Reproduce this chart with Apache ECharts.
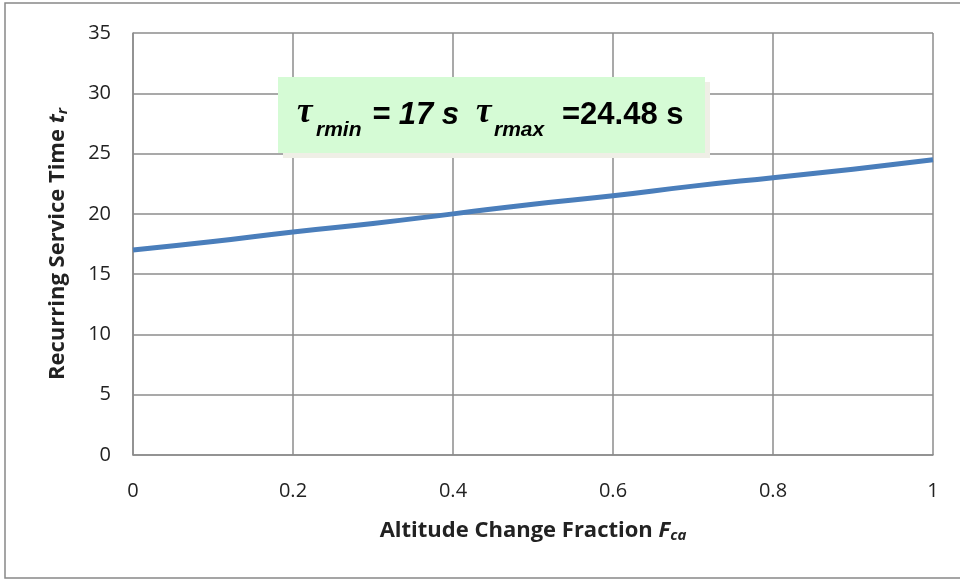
<!DOCTYPE html>
<html><head><meta charset="utf-8">
<script src="https://cdn.jsdelivr.net/npm/echarts@6/dist/echarts.min.js"></script>
<style>html,body{margin:0;padding:0;background:#fff;}#c{width:960px;height:581px;}</style>
</head><body><div id="c"></div>
<script>
const xValues = [0, 0.1, 0.2, 0.3, 0.4, 0.5, 0.6, 0.7, 0.8, 0.9, 1.0];
const serviceTime = [17.0, 17.7, 18.5, 19.2, 20.0, 20.8, 21.5, 22.3, 23.0, 23.7, 24.48];
const xTicks = [0, 0.2, 0.4, 0.6, 0.8, 1];
const yTicks = [0, 5, 10, 15, 20, 25, 30, 35];

const chart = echarts.init(document.getElementById('c'), null, {renderer: 'canvas'});
const gridColor = '#8c8c8c';
const labelFont = {fontFamily: 'Open Sans', fontSize: 20, color: '#222'};
chart.setOption({
  animation: false,
  backgroundColor: '#fff',
  grid: {left: 133, top: 33, right: 27, bottom: 126, show: false},
  xAxis: {
    type: 'value', min: xTicks[0], max: xTicks[xTicks.length - 1], interval: 0.2,
    axisLine: {show: true, lineStyle: {color: gridColor, width: 1.5}},
    axisTick: {show: false},
    splitLine: {show: true, lineStyle: {color: gridColor, width: 1.5}},
    axisLabel: Object.assign({margin: 26, formatter: v => String(+v.toFixed(1))}, labelFont),
    name: 'Altitude Change Fraction {i|F}{s|ca}',
    nameLocation: 'middle', nameGap: 64,
    nameTextStyle: {
      fontFamily: 'Open Sans', fontSize: 22, fontWeight: 'bold', color: '#222',
      rich: {
        i: {fontFamily: 'Open Sans', fontSize: 22, fontWeight: 'bold', fontStyle: 'italic', color: '#222'},
        s: {fontFamily: 'Open Sans', fontSize: 15, fontWeight: 'bold', fontStyle: 'italic', color: '#222', padding: [9, 0, 0, 0]}
      }
    }
  },
  yAxis: {
    type: 'value', min: yTicks[0], max: yTicks[yTicks.length - 1], interval: 5,
    axisLine: {show: true, lineStyle: {color: gridColor, width: 1.5}},
    axisTick: {show: false},
    splitLine: {show: true, lineStyle: {color: gridColor, width: 1.5}},
    axisLabel: Object.assign({margin: 22}, labelFont),
    name: 'Recurring Service Time {i|t}{s|r}',
    nameLocation: 'middle', nameGap: 63, nameRotate: 90,
    nameTextStyle: {
      fontFamily: 'Open Sans', fontSize: 22, fontWeight: 'bold', color: '#222',
      rich: {
        i: {fontFamily: 'Open Sans', fontSize: 22, fontWeight: 'bold', fontStyle: 'italic', color: '#222'},
        s: {fontFamily: 'Open Sans', fontSize: 15, fontWeight: 'bold', fontStyle: 'italic', color: '#222', padding: [9, 0, 0, 0]}
      }
    }
  },
  series: [{
    type: 'line', smooth: true, showSymbol: false,
    data: xValues.map((x, i) => [x, serviceTime[i]]),
    lineStyle: {color: '#4a7ebb', width: 5},
    itemStyle: {color: '#4a7ebb'}
  }],
  graphic: [
    {type: 'rect', shape: {x: 5, y: 3, width: 970, height: 575}, style: {fill: 'none', stroke: '#888', lineWidth: 1.5}, z: 100},
    {type: 'rect', shape: {x: 283, y: 82, width: 427, height: 76}, style: {fill: '#efefe6'}, z: 100},
    {type: 'rect', shape: {x: 278, y: 77, width: 427, height: 76}, style: {fill: '#d5fbd5'}, z: 101},
    {type: 'text', x: 297, y: 113, z: 102, style: {text: 'τ', font: 'italic bold 35px "Liberation Serif"', fill: '#000', verticalAlign: 'middle'}},
    {type: 'text', x: 316, y: 130, z: 102, style: {text: 'rmin', font: 'italic bold 21px "Liberation Sans"', fill: '#000', verticalAlign: 'middle'}},
    {type: 'text', x: 372, y: 115, z: 102, style: {text: '= 17 s', font: 'italic bold 31px "Liberation Sans"', fill: '#000', verticalAlign: 'middle'}},
    {type: 'text', x: 476, y: 113, z: 102, style: {text: 'τ', font: 'italic bold 35px "Liberation Serif"', fill: '#000', verticalAlign: 'middle'}},
    {type: 'text', x: 494, y: 130, z: 102, style: {text: 'rmax', font: 'italic bold 21px "Liberation Sans"', fill: '#000', verticalAlign: 'middle'}},
    {type: 'text', x: 562, y: 115, z: 102, style: {text: '=24.48 s', font: 'bold 31px "Liberation Sans"', fill: '#000', verticalAlign: 'middle'}}
  ]
});
</script></body></html>
